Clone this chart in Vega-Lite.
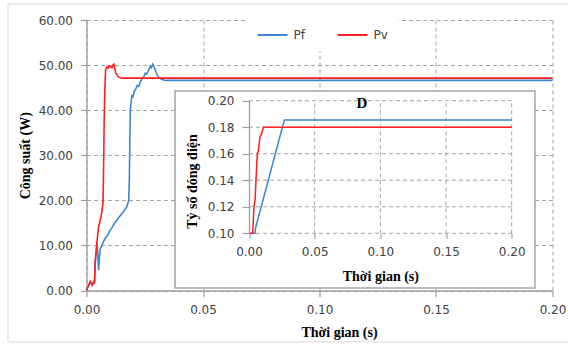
{
  "$schema": "https://vega.github.io/schema/vega-lite/v6.json",
  "width": 466,
  "height": 270.5,
  "autosize": {"type": "none"},
  "padding": {"left": 86.5, "top": 20, "right": 15.5, "bottom": 53.5},
  "background": "white",
  "config": {
    "view": {"stroke": null},
    "axis": {
      "domainColor": "#9e9e9e", "domainWidth": 1.3, "tickColor": "#9e9e9e", "tickWidth": 1.2,
      "gridColor": "#a3a3a3", "gridDash": [4, 3], "gridWidth": 1,
      "labelFont": "DejaVu Sans", "labelFontSize": 12, "labelColor": "#404040",
      "labelFlush": false, "labelOverlap": false,
      "titleFont": "Liberation Serif", "titleFontWeight": "bold", "titleFontSize": 14, "titleColor": "#000000"
    }
  },
  "datasets": {
    "power": [
      {"t": 0, "P": 0, "s": "Pf"}, {"t": 0.0016, "P": 1.9, "s": "Pf"}, {"t": 0.0024, "P": 1.2, "s": "Pf"},
      {"t": 0.0031, "P": 1.9, "s": "Pf"}, {"t": 0.0034, "P": 1.5, "s": "Pf"}, {"t": 0.0038, "P": 6.5, "s": "Pf"},
      {"t": 0.0045, "P": 10.5, "s": "Pf"}, {"t": 0.0049, "P": 8, "s": "Pf"}, {"t": 0.0052, "P": 4.5, "s": "Pf"},
      {"t": 0.0055, "P": 7, "s": "Pf"}, {"t": 0.0059, "P": 9.2, "s": "Pf"}, {"t": 0.0068, "P": 10.3, "s": "Pf"},
      {"t": 0.008, "P": 11.6, "s": "Pf"}, {"t": 0.009, "P": 12.2, "s": "Pf"}, {"t": 0.01, "P": 13.3, "s": "Pf"},
      {"t": 0.011, "P": 14.0, "s": "Pf"}, {"t": 0.012, "P": 14.9, "s": "Pf"}, {"t": 0.013, "P": 15.5, "s": "Pf"},
      {"t": 0.014, "P": 16.3, "s": "Pf"}, {"t": 0.015, "P": 16.9, "s": "Pf"}, {"t": 0.016, "P": 17.6, "s": "Pf"},
      {"t": 0.0172, "P": 18.5, "s": "Pf"}, {"t": 0.0181, "P": 19.9, "s": "Pf"}, {"t": 0.0184, "P": 25, "s": "Pf"},
      {"t": 0.0186, "P": 33, "s": "Pf"}, {"t": 0.0188, "P": 40, "s": "Pf"}, {"t": 0.0192, "P": 42, "s": "Pf"},
      {"t": 0.0195, "P": 43.2, "s": "Pf"}, {"t": 0.02, "P": 43.0, "s": "Pf"}, {"t": 0.0205, "P": 44.2, "s": "Pf"},
      {"t": 0.021, "P": 44.5, "s": "Pf"}, {"t": 0.0218, "P": 45.5, "s": "Pf"}, {"t": 0.0224, "P": 45.3, "s": "Pf"},
      {"t": 0.0231, "P": 46.3, "s": "Pf"}, {"t": 0.0238, "P": 46.9, "s": "Pf"}, {"t": 0.0246, "P": 47.4, "s": "Pf"},
      {"t": 0.0252, "P": 48.2, "s": "Pf"}, {"t": 0.0258, "P": 48.0, "s": "Pf"}, {"t": 0.0267, "P": 48.9, "s": "Pf"},
      {"t": 0.0273, "P": 49.7, "s": "Pf"}, {"t": 0.0278, "P": 49.4, "s": "Pf"}, {"t": 0.0284, "P": 50.2, "s": "Pf"},
      {"t": 0.029, "P": 49.6, "s": "Pf"}, {"t": 0.0299, "P": 48.3, "s": "Pf"}, {"t": 0.0306, "P": 47.6, "s": "Pf"},
      {"t": 0.0313, "P": 47.1, "s": "Pf"}, {"t": 0.0325, "P": 46.8, "s": "Pf"}, {"t": 0.0339, "P": 46.6, "s": "Pf"},
      {"t": 0.2, "P": 46.6, "s": "Pf"},
      {"t": 0, "P": 0, "s": "Pv"}, {"t": 0.0016, "P": 2.0, "s": "Pv"}, {"t": 0.0024, "P": 1.2, "s": "Pv"},
      {"t": 0.0031, "P": 2.0, "s": "Pv"}, {"t": 0.0034, "P": 1.6, "s": "Pv"}, {"t": 0.0038, "P": 6.8, "s": "Pv"},
      {"t": 0.0045, "P": 10.8, "s": "Pv"}, {"t": 0.0052, "P": 14.2, "s": "Pv"}, {"t": 0.0059, "P": 15.6, "s": "Pv"},
      {"t": 0.0066, "P": 17.5, "s": "Pv"}, {"t": 0.0071, "P": 19.5, "s": "Pv"}, {"t": 0.0074, "P": 30, "s": "Pv"},
      {"t": 0.0076, "P": 38, "s": "Pv"}, {"t": 0.0079, "P": 45, "s": "Pv"}, {"t": 0.0082, "P": 49.0, "s": "Pv"},
      {"t": 0.0088, "P": 49.6, "s": "Pv"}, {"t": 0.0092, "P": 49.3, "s": "Pv"}, {"t": 0.0097, "P": 49.8, "s": "Pv"},
      {"t": 0.0103, "P": 49.6, "s": "Pv"}, {"t": 0.0109, "P": 49.4, "s": "Pv"}, {"t": 0.0113, "P": 50.0, "s": "Pv"},
      {"t": 0.0117, "P": 50.2, "s": "Pv"}, {"t": 0.0121, "P": 49.3, "s": "Pv"}, {"t": 0.0126, "P": 48.3, "s": "Pv"},
      {"t": 0.0132, "P": 47.7, "s": "Pv"}, {"t": 0.014, "P": 47.3, "s": "Pv"}, {"t": 0.0153, "P": 47.1, "s": "Pv"},
      {"t": 0.2, "P": 47.1, "s": "Pv"}
    ],
    "duty": [
      {"t": 0, "D": 0.1, "s": "Pf"}, {"t": 0.0046, "D": 0.1, "s": "Pf"}, {"t": 0.005, "D": 0.104, "s": "Pf"},
      {"t": 0.0269, "D": 0.1854, "s": "Pf"}, {"t": 0.2, "D": 0.1854, "s": "Pf"},
      {"t": 0, "D": 0.1, "s": "Pv"}, {"t": 0.0028, "D": 0.1, "s": "Pv"}, {"t": 0.0038, "D": 0.12, "s": "Pv"},
      {"t": 0.0046, "D": 0.125, "s": "Pv"}, {"t": 0.0063, "D": 0.16, "s": "Pv"}, {"t": 0.0071, "D": 0.162, "s": "Pv"},
      {"t": 0.0084, "D": 0.173, "s": "Pv"}, {"t": 0.0096, "D": 0.175, "s": "Pv"}, {"t": 0.0109, "D": 0.18, "s": "Pv"},
      {"t": 0.2, "D": 0.18, "s": "Pv"}
    ],
    "insetXGrid": [{"t": 0.05}, {"t": 0.1}, {"t": 0.15}, {"t": 0.2}],
    "insetYGrid": [{"D": 0.1}, {"D": 0.12}, {"D": 0.14}, {"D": 0.16}, {"D": 0.18}, {"D": 0.2}]
  },
  "layer": [
    {
      "data": {"values": [{}]},
      "mark": {"type": "rect", "fill": null, "stroke": "#d9d9d9", "strokeWidth": 1},
      "encoding": {
        "x": {"datum": -0.0337, "type": "quantitative", "scale": {"domain": [0, 0.2], "nice": false}, "axis": null},
        "x2": {"datum": 0.21},
        "y": {"datum": 63.55, "type": "quantitative", "scale": {"domain": [0, 60], "nice": false}, "axis": null},
        "y2": {"datum": -11.4}
      }
    },
    {
      "data": {"name": "power"},
      "mark": {"type": "line", "strokeWidth": 1.6},
      "encoding": {
        "x": {
          "field": "t", "type": "quantitative",
          "scale": {"domain": [0, 0.2], "nice": false},
          "axis": {
            "title": "Thời gian (s)", "values": [0, 0.05, 0.1, 0.15, 0.2], "format": ".2f",
            "grid": true, "tickSize": 6, "labelPadding": 8, "titlePadding": 10, "titleX": 252.5, "zindex": 0
          }
        },
        "y": {
          "field": "P", "type": "quantitative",
          "scale": {"domain": [0, 60], "nice": false},
          "axis": {
            "title": "Công suất (W)", "values": [0, 10, 20, 30, 40, 50, 60], "format": ".2f",
            "grid": true, "tickSize": 6, "labelPadding": 8, "titlePadding": 6, "zindex": 0
          }
        },
        "color": {
          "field": "s", "type": "nominal",
          "scale": {"domain": ["Pf", "Pv"], "range": ["#3b87cb", "#ff1f1f"]},
          "legend": {
            "orient": "none", "legendX": 160, "legendY": -11, "direction": "horizontal", "title": null,
            "symbolType": "stroke", "symbolSize": 900, "symbolStrokeWidth": 2,
            "labelFont": "DejaVu Sans", "labelFontSize": 12, "labelColor": "#404040", "labelOffset": 5,
            "fillColor": "white", "padding": 10, "columnPadding": 28
          }
        }
      }
    },
    {
      "data": {"values": [{}]},
      "mark": {"type": "rect", "fill": "white", "stroke": "#a6a6a6", "strokeWidth": 1.5},
      "encoding": {
        "x": {"datum": -0.0563, "type": "quantitative", "scale": {"domain": [0, 0.2], "range": [162.5, 425.2], "nice": false}, "axis": null},
        "x2": {"datum": 0.2177},
        "y": {"datum": 0.2073, "type": "quantitative", "scale": {"domain": [0.1, 0.2], "range": [213.3, 80.7], "nice": false, "zero": false}, "axis": null},
        "y2": {"datum": 0.0587}
      }
    },
    {
      "data": {"name": "insetXGrid"},
      "mark": {"type": "rule", "stroke": "#a3a3a3", "strokeDash": [4, 3], "strokeWidth": 1},
      "encoding": {
        "x": {"field": "t", "type": "quantitative", "scale": {"domain": [0, 0.2], "range": [162.5, 425.2], "nice": false}, "axis": null},
        "y": {"datum": 0.1, "type": "quantitative", "scale": {"domain": [0.1, 0.2], "range": [213.3, 80.7], "nice": false, "zero": false}, "axis": null},
        "y2": {"datum": 0.2}
      }
    },
    {
      "data": {"name": "insetYGrid"},
      "mark": {"type": "rule", "stroke": "#a3a3a3", "strokeDash": [4, 3], "strokeWidth": 1},
      "encoding": {
        "x": {"datum": 0, "type": "quantitative", "scale": {"domain": [0, 0.2], "range": [162.5, 425.2], "nice": false}, "axis": null},
        "x2": {"datum": 0.2},
        "y": {"field": "D", "type": "quantitative", "scale": {"domain": [0.1, 0.2], "range": [213.3, 80.7], "nice": false, "zero": false}, "axis": null}
      }
    },
    {
      "data": {"name": "duty"},
      "mark": {"type": "line", "strokeWidth": 1.5},
      "encoding": {
        "x": {
          "field": "t", "type": "quantitative",
          "scale": {"domain": [0, 0.2], "range": [162.5, 425.2], "nice": false},
          "axis": {
            "orient": "bottom", "offset": -57.2, "title": "Thời gian (s)",
            "values": [0, 0.05, 0.1, 0.15, 0.2], "format": ".2f",
            "grid": false, "domain": false, "tickSize": 5, "labelPadding": 8, "titlePadding": 12, "zindex": 1
          }
        },
        "y": {
          "field": "D", "type": "quantitative",
          "scale": {"domain": [0.1, 0.2], "range": [213.3, 80.7], "nice": false, "zero": false},
          "axis": {
            "orient": "left", "offset": -162.5, "title": "Tỷ số đóng  điện",
            "values": [0.1, 0.12, 0.14, 0.16, 0.18, 0.2], "format": ".2f",
            "grid": false, "tickSize": 7, "labelPadding": 8, "titlePadding": 8, "titleY": 161, "zindex": 1
          }
        },
        "color": {"field": "s", "type": "nominal"}
      }
    },
    {
      "data": {"values": [{}]},
      "mark": {"type": "text", "text": "D", "font": "Liberation Serif", "fontWeight": "bold", "fontSize": 15, "baseline": "middle", "align": "center", "color": "black"},
      "encoding": {
        "x": {"datum": 0.086, "type": "quantitative", "scale": {"domain": [0, 0.2], "range": [162.5, 425.2], "nice": false}, "axis": null},
        "y": {"datum": 0.1985, "type": "quantitative", "scale": {"domain": [0.1, 0.2], "range": [213.3, 80.7], "nice": false, "zero": false}, "axis": null}
      }
    }
  ],
  "resolve": {
    "scale": {"x": "independent", "y": "independent"},
    "axis": {"x": "independent", "y": "independent"}
  }
}
